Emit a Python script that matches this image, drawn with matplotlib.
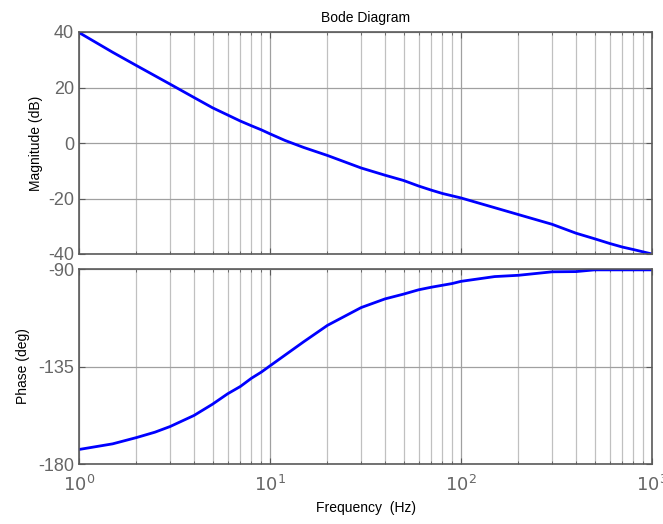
import matplotlib
matplotlib.use("Agg")
import matplotlib.pyplot as plt
from matplotlib.ticker import LogLocator, FixedLocator, NullFormatter

plt.rcParams['font.family'] = ['Liberation Sans', 'DejaVu Sans']
plt.rcParams['axes.unicode_minus'] = False

freq_mag = [1, 1.5, 2, 3, 4, 5, 6, 7, 8, 9, 10, 12, 15, 20, 30, 40, 50, 60, 70, 80,
            100, 200, 300, 400, 500, 600, 700, 800, 1000]
mag_db = [39.8, 32.7, 27.9, 21.2, 16.4, 12.7, 10.1, 7.9, 6.2, 4.75, 3.3, 0.9, -1.6, -4.5,
          -9.0, -11.6, -13.5, -15.5, -17.0, -18.2, -19.8, -25.8, -29.3, -32.5, -34.5,
          -36.2, -37.5, -38.4, -40.0]

freq_ph = [1, 1.5, 2, 2.5, 3, 4, 5, 6, 7, 8, 9, 10, 15, 20, 30, 40, 50, 60, 70, 80, 90,
           100, 150, 200, 300, 400, 500, 1000]
phase_deg = [-173.3, -170.7, -167.8, -165.3, -162.7, -157.6, -152.4, -147.6, -144.2,
             -140.4, -137.6, -134.7, -123.6, -116.0, -107.8, -103.8, -101.6, -99.6,
             -98.4, -97.5, -96.7, -95.7, -93.5, -92.9, -91.3, -91.2, -90.4, -90.4]

mag_ticks = [-40, -20, 0, 20, 40]
phase_ticks = [-180, -135, -90]
x_ticks = [1, 10, 100, 1000]
x_labels = ['$10^{0}$', '$10^{1}$', '$10^{2}$', '$10^{3}$']

fig = plt.figure(figsize=(6.63, 5.24), dpi=100)
W, H = 663, 524
def rect(l, t, r, b):
    return [l / W, 1 - b / H, (r - l) / W, (b - t) / H]

ax1 = fig.add_axes(rect(79, 32, 652, 254))
ax2 = fig.add_axes(rect(79, 269, 652, 464))

spine_c = '#5a5a5a'
tick_c = '#666666'
for ax in (ax1, ax2):
    ax.set_xscale('log')
    ax.set_xlim(1, 1000)
    ax.xaxis.set_major_locator(FixedLocator(x_ticks))
    ax.xaxis.set_minor_locator(LogLocator(base=10, subs=range(2, 10)))
    ax.xaxis.set_minor_formatter(NullFormatter())
    ax.grid(True, which='major', axis='both', color='#a0a0a0', lw=0.9)
    ax.grid(True, which='minor', axis='x', color='#c0c0c0', lw=0.9)
    ax.set_axisbelow(True)
    for s in ax.spines.values():
        s.set_color(spine_c)
        s.set_linewidth(1.2)
    ax.tick_params(which='both', direction='in', top=True, right=True,
                   color=spine_c, labelcolor=tick_c, labelsize=13)
    ax.tick_params(which='major', length=4)
    ax.tick_params(which='minor', length=2.5)

ax1.plot(freq_mag, mag_db, color='#0000ff', lw=2)
ax1.set_ylim(-40, 40)
ax1.set_yticks(mag_ticks)
ax1.set_xticklabels([])
ax1.set_ylabel('Magnitude (dB)', fontsize=10, color='black', labelpad=4)
ax1.set_title('Bode Diagram', fontsize=10, pad=7)

ax2.plot(freq_ph, phase_deg, color='#0000ff', lw=2)
ax2.set_ylim(-180, -90)
ax2.set_yticks(phase_ticks)
ax2.set_xticklabels(x_labels)
ax2.set_ylabel('Phase (deg)', fontsize=10, color='black', labelpad=6)
ax2.set_xlabel('Frequency  (Hz)', fontsize=10, color='black', labelpad=4)
ax2.tick_params(axis='x', pad=8)

fig.savefig('out.png', dpi=100)
